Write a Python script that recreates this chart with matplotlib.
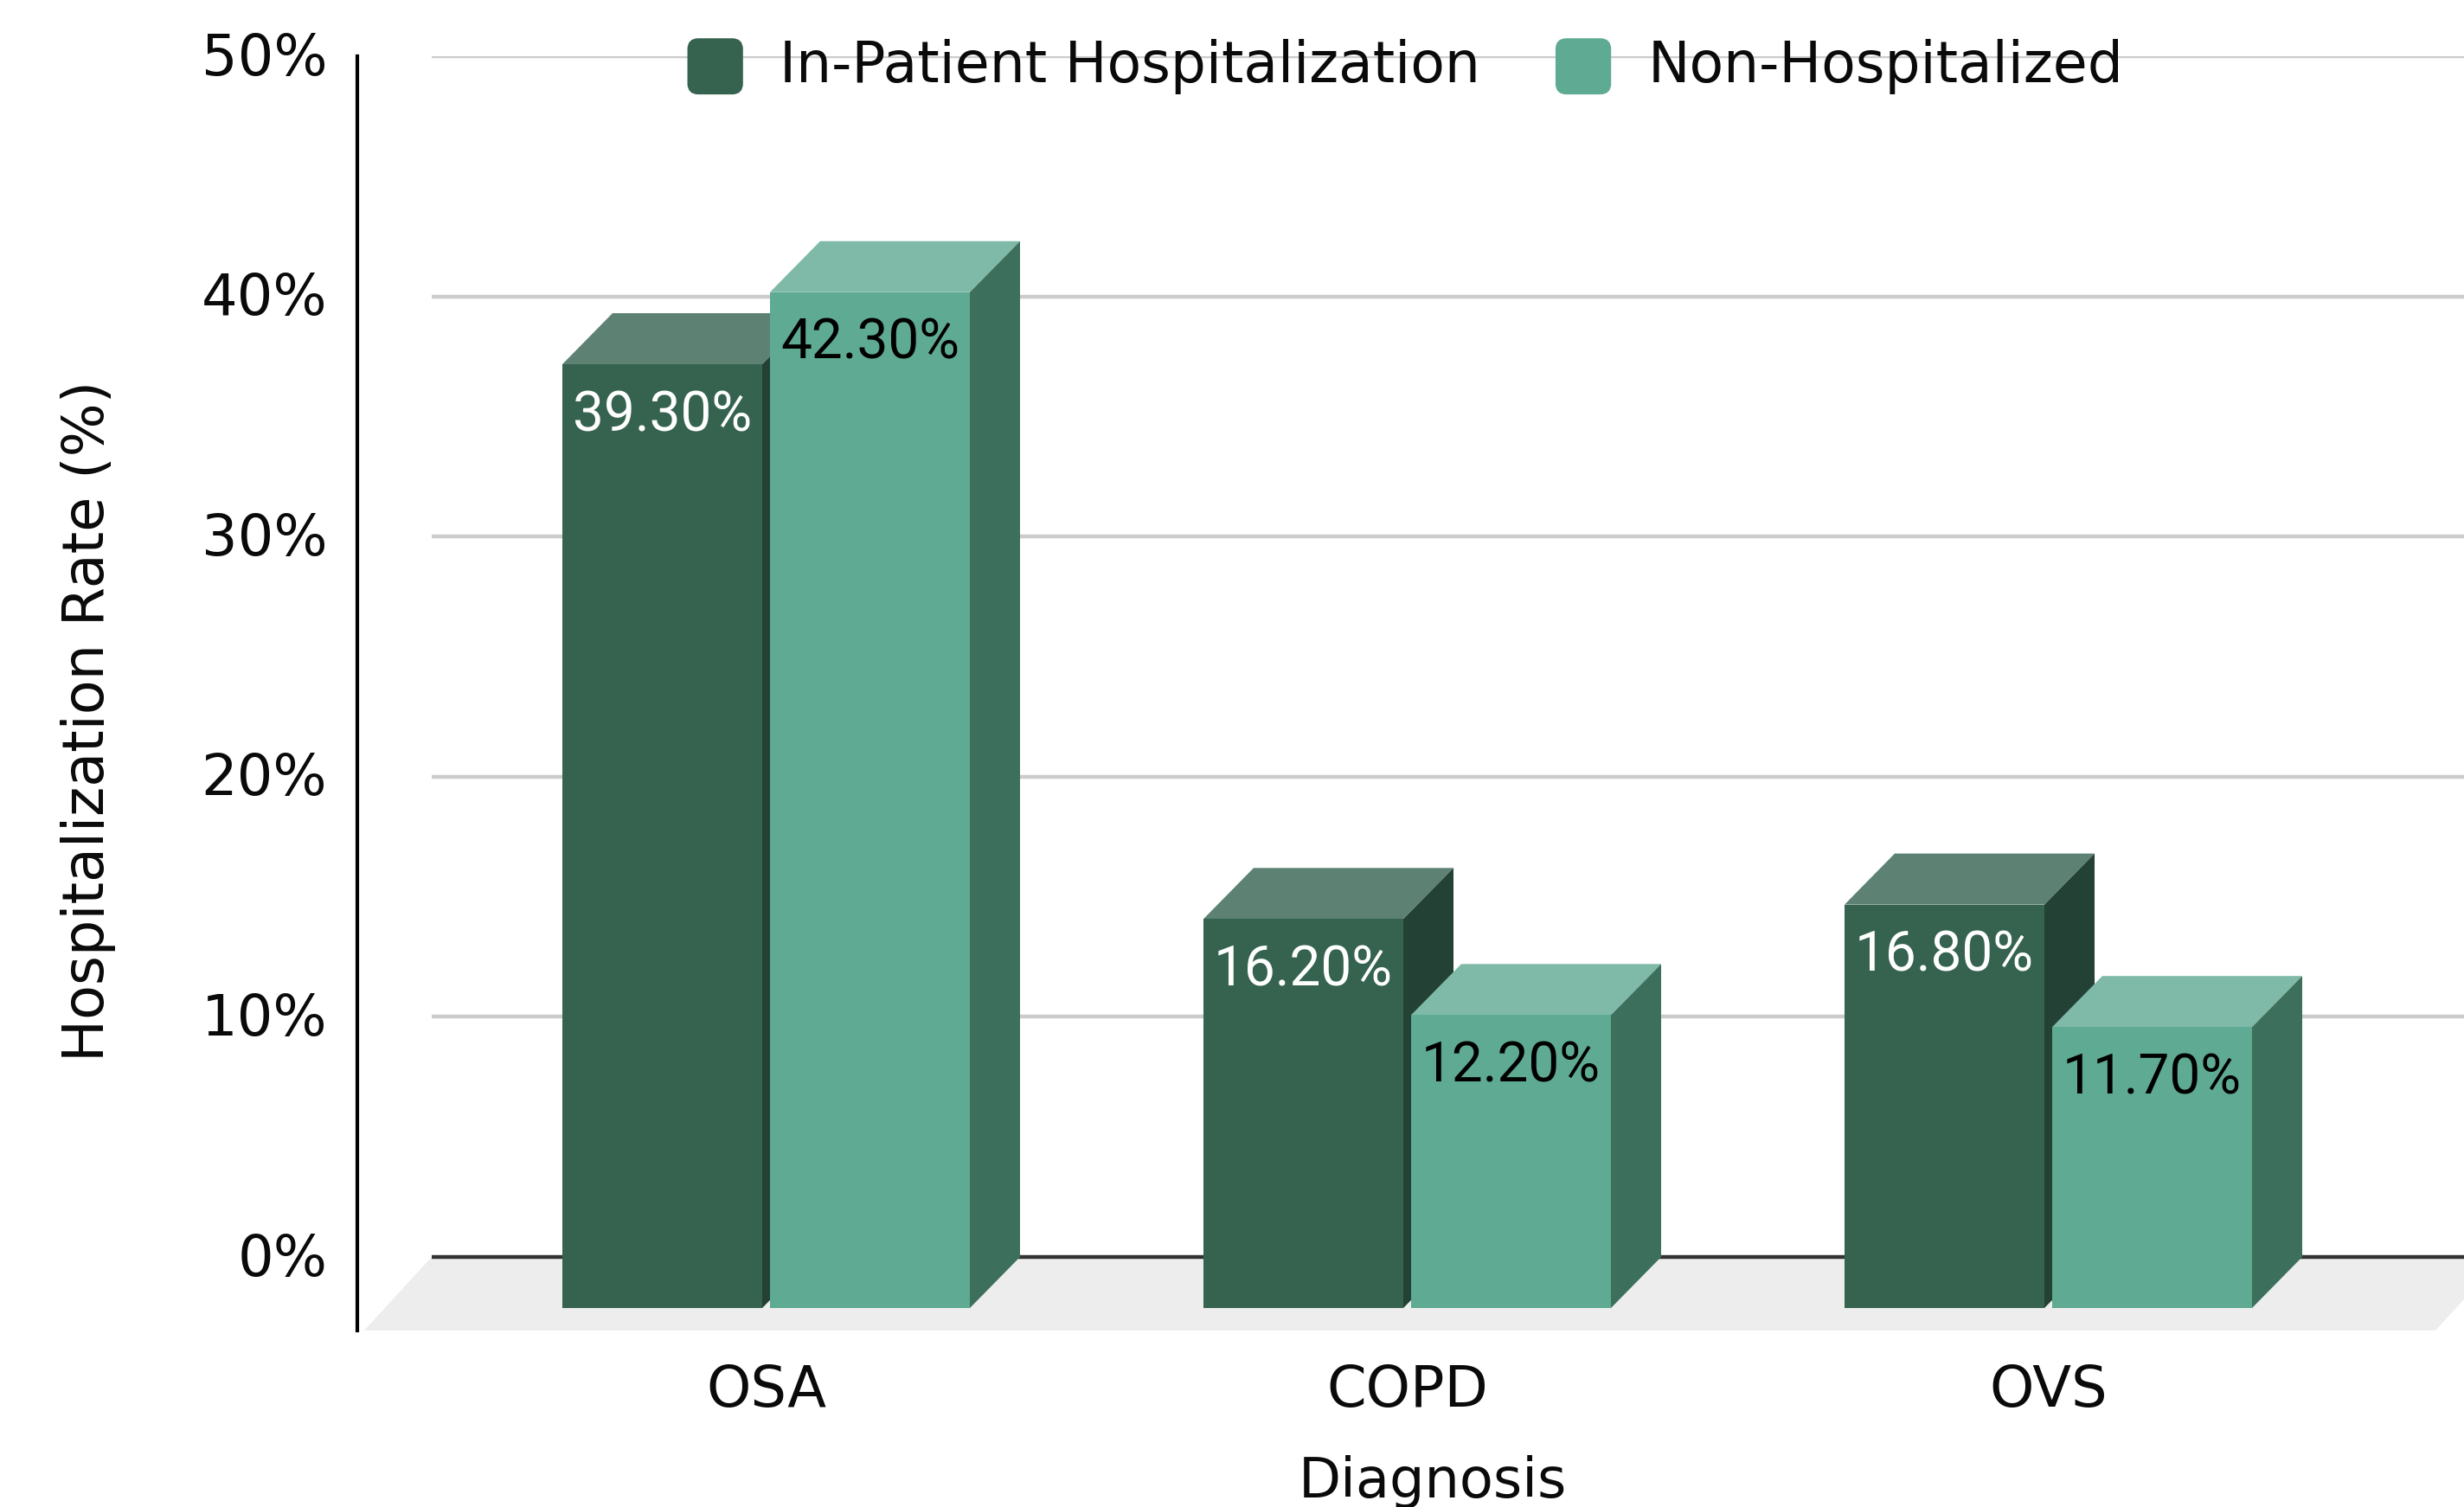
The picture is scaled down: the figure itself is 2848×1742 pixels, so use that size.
import matplotlib
matplotlib.use("Agg")
import matplotlib.pyplot as plt
from matplotlib.legend_handler import HandlerPatch
from matplotlib.patches import FancyBboxPatch, Patch
from matplotlib.transforms import ScaledTranslation

categories = ["OSA", "COPD", "OVS"]
in_patient = [39.3, 16.2, 16.8]
non_hosp = [42.3, 12.2, 11.7]
y_ticks = [0, 10, 20, 30, 40, 50]
y_tick_labels = ["0%", "10%", "20%", "30%", "40%", "50%"]

W, H = 2848, 1742
DPI = 200

# pixel calibration of the plot area
left_px, right_px = 413, 2848
top_px, bottom_px = 65, 1538
zero_px = 1453
px_per_pct = (zero_px - top_px) / 50
px_per_cat = 741
cat0_px = 885.5

bar_w = 231 / px_per_cat
gap = 9 / px_per_cat
depth_x = 58 / px_per_cat
depth_y = 59 / px_per_pct

dark = {"front": "#35634F", "top": "#5D8273", "side": "#234235"}
light = {"front": "#5FAA92", "top": "#7FB9A7", "side": "#3D705C"}

fig = plt.figure(figsize=(W / DPI, H / DPI), dpi=DPI)
ax = fig.add_axes([left_px / W, 1 - bottom_px / H, (right_px - left_px) / W, (bottom_px - top_px) / H])
ax.set_xlim((left_px - cat0_px) / px_per_cat, (right_px - cat0_px) / px_per_cat)
ax.set_ylim(-(bottom_px - zero_px) / px_per_pct, 50)

for s in ["top", "right", "bottom"]:
    ax.spines[s].set_visible(False)
ax.spines["left"].set_linewidth(1.5)
ax.spines["left"].set_color("black")

# floor
x0, x1 = ax.get_xlim()
y0 = ax.get_ylim()[0]
floor_l = x0 + 8 / px_per_cat
floor_r = x1 - 33 / px_per_cat
floor_dx = 78 / px_per_cat
ax.fill([floor_l, floor_r, floor_r + floor_dx, floor_l + floor_dx], [y0, y0, 0, 0], color="#EDEDED", lw=0, zorder=1)

# grid lines start at the back wall
grid_start = floor_l + floor_dx
ax.hlines(y_ticks[1:], grid_start, x1, color="#CCCCCC", lw=1.6, zorder=1)
ax.hlines(0, grid_start, x1, color="#333333", lw=1.6, zorder=2)


def draw_bar(xc, value, col, z):
    l, r = xc, xc + bar_w
    b = -depth_y
    t = value - depth_y
    ax.bar(l, value, bar_w, bottom=b, align="edge", color=col["front"], lw=0, zorder=z + 0.2)
    ax.fill([l, r, r + depth_x, l + depth_x], [t, t, t + depth_y, t + depth_y], color=col["top"], lw=0, zorder=z)
    ax.fill([r, r + depth_x, r + depth_x, r], [b, b + depth_y, t + depth_y, t], color=col["side"], lw=0, zorder=z)


for i in range(len(categories)):
    draw_bar(i - bar_w - gap / 2, in_patient[i], dark, 3 + i * 2)
    draw_bar(i + gap / 2, non_hosp[i], light, 4 + i * 2)
    ax.annotate(f"{in_patient[i]:.2f}%", (i - gap / 2 - bar_w / 2, in_patient[i] - depth_y),
                xytext=(0, -21.3), textcoords="offset points", ha="center", va="center",
                family="Roboto", fontsize=23, color="white", zorder=20)
    ax.annotate(f"{non_hosp[i]:.2f}%", (i + gap / 2 + bar_w / 2, non_hosp[i] - depth_y),
                xytext=(0, -21.3), textcoords="offset points", ha="center", va="center",
                family="Roboto", fontsize=23, color="black", zorder=20)

ax.set_xticks(range(len(categories)))
ax.set_xticklabels(categories)
ax.set_yticks(y_ticks)
ax.set_yticklabels(y_tick_labels)
ax.tick_params(axis="both", length=0, labelsize=23.6, labelcolor="#0A0A0A")
ax.tick_params(axis="y", pad=12.5)
ax.tick_params(axis="x", pad=13.5)
# tick labels sit a little above their grid lines
for lab in ax.get_yticklabels():
    lab.set_transform(lab.get_transform() + ScaledTranslation(0, 1.2 / 72, fig.dpi_scale_trans))

ax.set_ylabel("Hospitalization Rate (%)", fontsize=23.5, color="#0A0A0A")
ax.yaxis.set_label_coords(-0.1145, 0.478)
ax.set_xlabel("Diagnosis", fontsize=23, color="#0A0A0A")
ax.xaxis.set_label_coords(0.5105, -0.0975)


def rounded_handle(legend, orig_handle, xdescent, ydescent, width, height, fontsize):
    r = 4
    return FancyBboxPatch((-xdescent + r, -ydescent + r - 1.5), width - 2 * r, height - 2 * r,
                          boxstyle=f"round,pad={r}", lw=0)


handles = [Patch(color=dark["front"], label="In-Patient Hospitalization"),
           Patch(color=light["front"], label="Non-Hospitalized")]
fig.legend(handles=handles, loc="center", bbox_to_anchor=(1625 / W, 1 - 75 / H), ncol=2, frameon=False,
           fontsize=23.3, handlelength=0.95, handleheight=1.1, handletextpad=0.67, columnspacing=1.37,
           borderpad=0, labelcolor="#0A0A0A",
           handler_map={Patch: HandlerPatch(patch_func=rounded_handle)})

fig.savefig("out.png", dpi=DPI)
